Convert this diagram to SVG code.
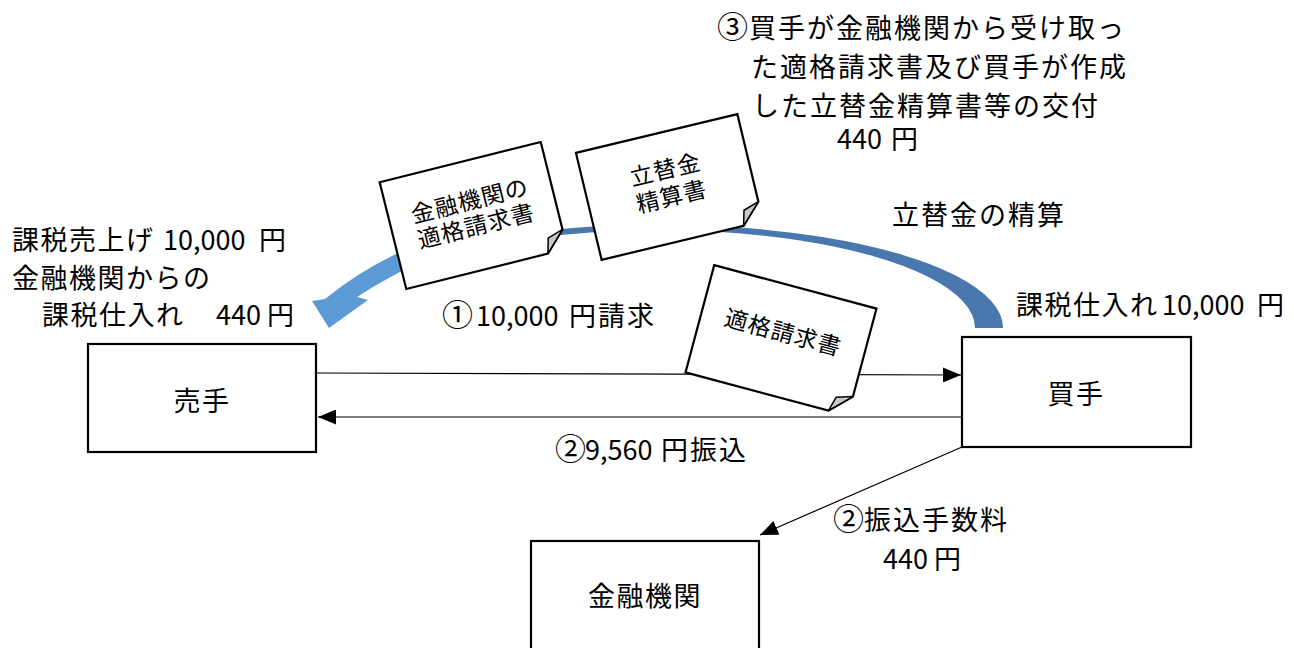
<svg xmlns="http://www.w3.org/2000/svg" width="1294" height="648" viewBox="0 0 1294 648">
  <defs>
    <style>
      .t { font-family: "Noto Sans CJK JP", "Noto Sans", sans-serif; font-size: 27px; fill: #000; letter-spacing: 1.5px; }
      .w { letter-spacing: 2px; }
      .n { letter-spacing: 0px; }
      .c { font-size: 31px; letter-spacing: 0px; }
      .dt { font-family: "Noto Sans CJK JP", "Noto Sans", sans-serif; font-size: 23px; fill: #000; letter-spacing: 1px; text-anchor: middle; }
      .box { fill: #fff; stroke: #000; stroke-width: 2.2; }
      .doc { fill: #fff; stroke: #000; stroke-width: 2.2; stroke-linejoin: miter; }
      .flap { fill: #c8c8c8; stroke: #000; stroke-width: 1.5; stroke-linejoin: round; }
      .conn { stroke: #000; stroke-width: 1.2; fill: none; }
    </style>
    <marker id="ah" viewBox="0 0 18 15" refX="18" refY="7.5" markerWidth="18" markerHeight="15" markerUnits="userSpaceOnUse" orient="auto">
      <path d="M0,0 L18,7.5 L0,15 Z" fill="#000"/>
    </marker>
  </defs>

  <rect width="1294" height="648" fill="#fff"/>

  <!-- curved blue arrow -->
  <g id="settle-arrow">
    <path d="M1003,328 A343,103 0 0 0 470,242 L470,250 A315,98 0 0 1 975,328 Z" fill="#4878ad"/>
    <path d="M470,226 Q385,250 325,299 L312,301 L329,328 L368,300 L357,297 Q395,272 470,238 Z" fill="#5b9bd5"/>
  </g>

  <!-- connectors -->
  <g id="connectors">
    <line class="conn" x1="316" y1="373" x2="961" y2="375" marker-end="url(#ah)"/>
    <line class="conn" x1="962" y1="417" x2="318" y2="417" marker-end="url(#ah)"/>
    <line class="conn" x1="962" y1="447" x2="760" y2="535" marker-end="url(#ah)"/>
  </g>

  <!-- nodes -->
  <g id="seller">
    <rect class="box" x="88" y="344" width="228" height="108"/>
    <text class="t" x="202" y="411" text-anchor="middle">売手</text>
  </g>
  <g id="buyer">
    <rect class="box" x="962" y="337" width="229" height="110"/>
    <text class="t" x="1076" y="404" text-anchor="middle">買手</text>
  </g>
  <g id="bank">
    <rect class="box" x="531" y="541" width="228" height="130"/>
    <text class="t" x="645" y="606" text-anchor="middle">金融機関</text>
  </g>

  <!-- documents -->
  <g id="doc-bank-invoice" transform="translate(473.5,215.5) rotate(-14)">
    <path class="doc" d="M-83,-55 H83 V35 L63,55 H-83 Z"/>
    <path class="flap" d="M83,35 L63,55 L67,40 Z"/>
    <text class="dt" x="0" y="-7">金融機関の</text>
    <text class="dt" x="0" y="19">適格請求書</text>
  </g>
  <g id="doc-settlement" transform="translate(669.5,187) rotate(-13.5)">
    <path class="doc" d="M-83,-55 H83 V35 L63,55 H-83 Z"/>
    <path class="flap" d="M83,35 L63,55 L67,40 Z"/>
    <text class="dt" x="0" y="-9.5">立替金</text>
    <text class="dt" x="0" y="18">精算書</text>
  </g>
  <g id="doc-invoice" transform="translate(781,340.5) rotate(15)">
    <path class="doc" d="M-84,-55.5 H84 V35.5 L64,55.5 H-84 Z"/>
    <path class="flap" d="M84,35.5 L64,55.5 L68,40.5 Z"/>
    <text class="dt" x="0" y="0">適格請求書</text>
  </g>

  <!-- labels -->
  <g id="label-seller">
    <text class="t" y="250"><tspan x="12">課税売上げ</tspan><tspan class="n" x="163">10,000</tspan><tspan x="259">円</tspan></text>
    <text class="t" x="12" y="288">金融機関からの</text>
    <text class="t" y="325"><tspan x="42">課税仕入れ</tspan><tspan class="n" x="216">440</tspan><tspan x="267">円</tspan></text>
  </g>
  <g id="label-invoice">
    <text class="t" y="326"><tspan class="c" x="442">①</tspan><tspan class="n" x="476">10,000</tspan><tspan class="w" x="569">円請求</tspan></text>
  </g>
  <g id="label-transfer">
    <text class="t" y="460"><tspan class="c" x="555">②</tspan><tspan class="n" x="585">9,560</tspan><tspan class="w" x="661">円振込</tspan></text>
  </g>
  <g id="label-fee">
    <text class="t w" y="530"><tspan class="c" x="833">②</tspan><tspan x="864">振込手数料</tspan></text>
    <text class="t" y="569"><tspan class="n" x="883">440</tspan><tspan x="934">円</tspan></text>
  </g>
  <g id="label-buyer">
    <text class="t" y="315"><tspan x="1016">課税仕入れ</tspan><tspan class="n" x="1162">10,000</tspan><tspan x="1257">円</tspan></text>
  </g>
  <g id="label-settle">
    <text class="t w" x="892" y="225">立替金の精算</text>
  </g>
  <g id="label-delivery">
    <text class="t w"><tspan class="c" x="717" y="38">③</tspan><tspan x="749" y="38">買手が金融機関から受け取っ</tspan><tspan x="751" y="77">た適格請求書及び買手が作成</tspan><tspan x="752" y="116">した立替金精算書等の交付</tspan><tspan class="n" x="837" y="149">440</tspan><tspan x="891" y="149">円</tspan></text>
  </g>
</svg>
